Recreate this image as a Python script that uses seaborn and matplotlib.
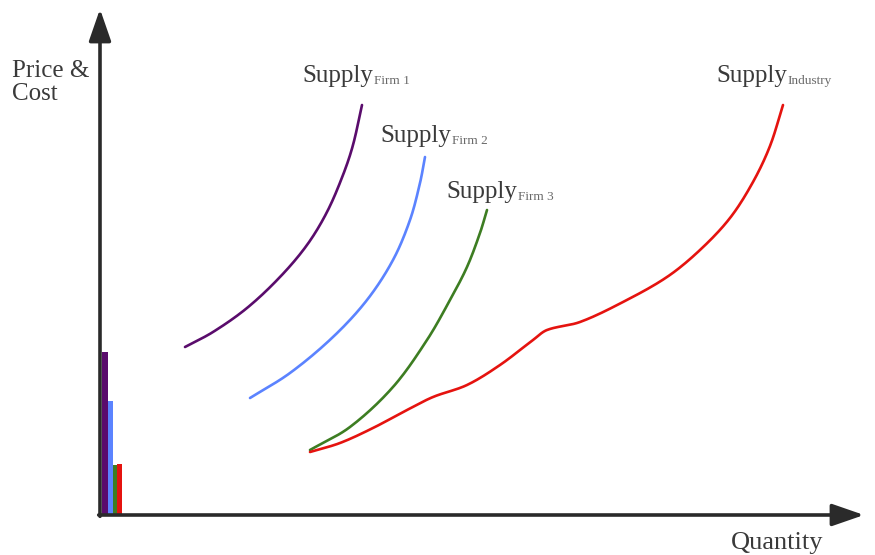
import numpy as np
import pandas as pd
import matplotlib
matplotlib.use("Agg")
import matplotlib.pyplot as plt
import seaborn as sns

# ==========================================
# DATA (origin of axes = 0,0)
# ==========================================

firm1_q = [85, 113, 147, 180, 207, 227, 243, 253, 262]
firm1_p = [168, 183, 207, 238, 270, 303, 340, 370, 410]

firm2_q = [150, 190, 233, 267, 293, 310, 320, 325]
firm2_p = [117, 142, 178, 215, 255, 295, 332, 358]

firm3_q = [210, 250, 293, 327, 350, 367, 380, 387]
firm3_p = [65, 88, 128, 175, 215, 248, 282, 305]

ind_q = [210, 240, 273, 307, 333, 367, 400, 433, 447, 480, 523, 567, 600, 630, 653, 670, 683]
ind_p = [63, 72, 87, 105, 118, 130, 150, 175, 185, 193, 213, 238, 265, 297, 333, 369, 410]

bar_heights = [163, 114, 50, 51]
bar_colors = ["#5a0c6c", "#5b83ff", "#3d7d22", "#e5130f"]

labels = ["Firm 1", "Firm 2", "Firm 3", "Industry"]
curve_colors = ["#5a0c6c", "#5b83ff", "#3d7d22", "#e5130f"]


def smooth(q, p, n=20):
    # cubic Hermite through the read points, chord-length parameter
    q = np.array(q, float)
    p = np.array(p, float)
    d = np.r_[0, np.cumsum(np.hypot(np.diff(q), np.diff(p)))]
    qs, ps = [], []
    for i in range(len(q) - 1):
        i0, i1 = max(i - 1, 0), min(i + 2, len(q) - 1)
        h = d[i + 1] - d[i]
        mq0 = (q[i + 1] - q[i0]) / (d[i + 1] - d[i0]) * h
        mq1 = (q[i1] - q[i]) / (d[i1] - d[i]) * h
        mp0 = (p[i + 1] - p[i0]) / (d[i + 1] - d[i0]) * h
        mp1 = (p[i1] - p[i]) / (d[i1] - d[i]) * h
        s = np.linspace(0, 1, n, endpoint=(i == len(q) - 2))
        h00 = 2 * s**3 - 3 * s**2 + 1
        h10 = s**3 - 2 * s**2 + s
        h01 = -2 * s**3 + 3 * s**2
        h11 = s**3 - s**2
        qs.append(h00 * q[i] + h10 * mq0 + h01 * q[i + 1] + h11 * mq1)
        ps.append(h00 * p[i] + h10 * mp0 + h01 * p[i + 1] + h11 * mp1)
    return pd.DataFrame({"q": np.concatenate(qs), "p": np.concatenate(ps)})


# ==========================================
# FIGURE
# ==========================================

sns.set_style("white")
plt.rcParams["font.family"] = ["Liberation Serif", "DejaVu Serif"]

fig = plt.figure(figsize=(8.75, 5.55), dpi=100)
ax = fig.add_axes([100 / 875, 40 / 555, 760 / 875, 505 / 555])
ax.set_xlim(0, 760)
ax.set_ylim(0, 505)
ax.axis("off")

# small bars near origin
bar_w = [6, 5, 4, 5]
left = 2
for h, w, c in zip(bar_heights, bar_w, bar_colors):
    ax.bar(left, h, width=w, align="edge", color=c, linewidth=0)
    left += w

# supply curves
curves = [(firm1_q, firm1_p), (firm2_q, firm2_p), (firm3_q, firm3_p), (ind_q, ind_p)]
for (q, p), c in zip(curves, curve_colors):
    sns.lineplot(data=smooth(q, p), x="q", y="p", sort=False, estimator=None,
                 color=c, linewidth=1.9, ax=ax)

# axes arrows
arrow = dict(arrowstyle="-|>,head_length=0.75,head_width=0.26", color="#2a2a2a",
             lw=2.6, mutation_scale=26, shrinkA=0, shrinkB=0)
ax.annotate("", xy=(764, 0), xytext=(-1.3, 0), arrowprops=arrow,
            annotation_clip=False)
ax.annotate("", xy=(0, 506), xytext=(0, -1.3), arrowprops=arrow,
            annotation_clip=False)

# labels
label_pos = [(202, 433), (280, 373), (346, 317), (616, 433)]
for (x, y), sub in zip(label_pos, labels):
    t = ax.text(x, y, "Supply", fontsize=18, color="#3a3a3a", va="baseline")
    ax.annotate(sub, xy=(1, 0), xycoords=t, xytext=(0.5, 0),
                textcoords="offset points", fontsize=9.5, color="#6a6a6a",
                va="bottom", ha="left")

fig.text(12 / 875, 1 - 60 / 555, "Price &\nCost", fontsize=18, color="#3a3a3a",
         va="top", ha="left", linespacing=1.05)
fig.text(731 / 875, 1 - 554 / 555, "Quantity", fontsize=19, color="#3a3a3a",
         va="bottom", ha="left")

plt.savefig("out.png", dpi=100)
